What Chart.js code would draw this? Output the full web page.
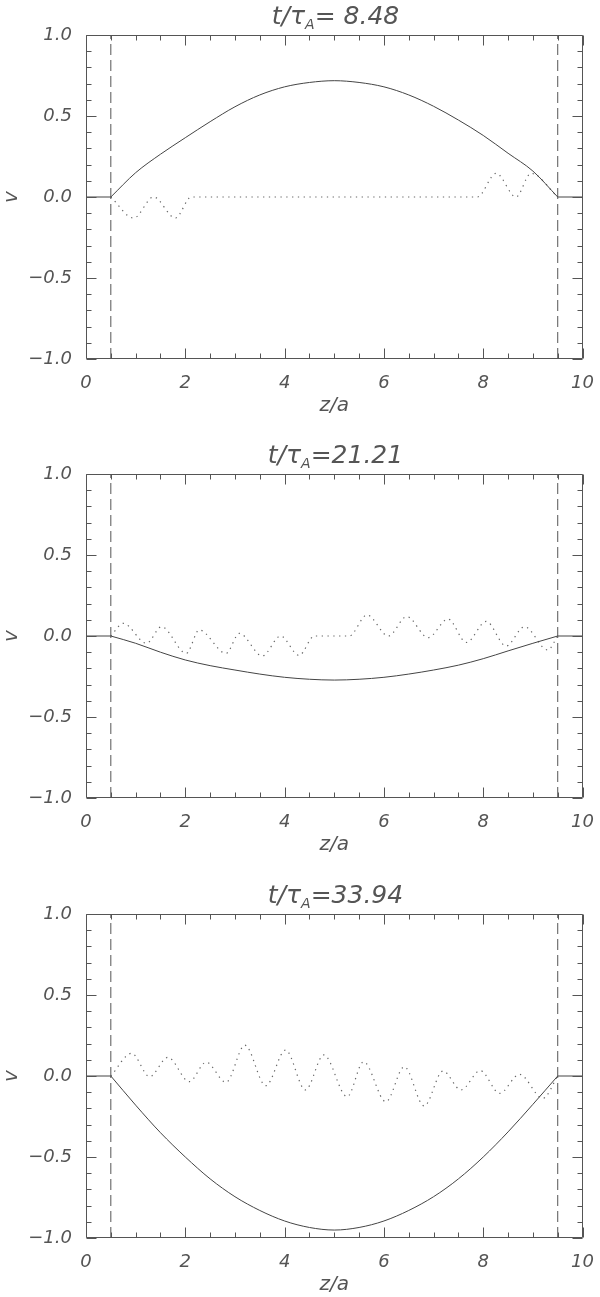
<!DOCTYPE html>
<html>
<head>
<meta charset="utf-8">
<script src="https://cdn.jsdelivr.net/npm/chart.js@4"></script>
<style>
  html, body { margin:0; padding:0; background:#fff; }
  body { width:600px; height:1297px; overflow:hidden; position:relative; }
  .panel { position:absolute; left:0; width:600px; height:418px; }
  .title { position:absolute; left:71px; width:529px; text-align:center; white-space:pre;
           font-family:'DejaVu Sans', sans-serif; font-style:italic; font-size:25px; line-height:30px; color:#555; }
  .title .sub { font-size:14px; vertical-align:-5px; }
</style>
</head>
<body>
<div class="panel" style="top:0px"><canvas id="c1" width="600" height="418"></canvas></div>
<div class="panel" style="top:439px"><canvas id="c2" width="600" height="418"></canvas></div>
<div class="panel" style="top:879px"><canvas id="c3" width="600" height="418"></canvas></div>
<div class="title" id="t1" style="top:1px"></div>
<div class="title" id="t2" style="top:440px"></div>
<div class="title" id="t3" style="top:880px"></div>
<script>
// ---------- data ----------
const titleValues = [' 8.48', '21.21', '33.94'];

const xTicks = [0, 2, 4, 6, 8, 10];
const xMinorTicks = [0.5, 1, 1.5, 2.5, 3, 3.5, 4.5, 5, 5.5, 6.5, 7, 7.5, 8.5, 9, 9.5];
const yTicks = [-1, -0.5, 0, 0.5, 1];
const yMinorTicks = [-0.9, -0.8, -0.7, -0.6, -0.4, -0.3, -0.2, -0.1, 0.1, 0.2, 0.3, 0.4, 0.6, 0.7, 0.8, 0.9];

const boundaryZ = [0.5, 9.5];

const edgeZ = [0, 0.5, 5, 9.5, 10];
const edgeV = [0, 0, null, 0, 0];

const solidZ = [0.5, 1, 1.5, 2, 2.5, 3, 3.5, 4, 4.5, 5, 5.5, 6, 6.5, 7, 7.5, 8, 8.5, 9, 9.5];
const solid1V = [0, 0.15, 0.264, 0.366, 0.465, 0.557, 0.63, 0.68, 0.707, 0.718, 0.707, 0.68, 0.63, 0.56, 0.475, 0.38, 0.27, 0.16, 0];
const solid2V = [0, -0.045, -0.10, -0.148, -0.183, -0.21, -0.235, -0.255, -0.267, -0.272, -0.267, -0.255, -0.235, -0.21, -0.18, -0.14, -0.092, -0.045, 0];
const solid3V = [0, -0.18, -0.35, -0.50, -0.635, -0.745, -0.83, -0.895, -0.935, -0.951, -0.935, -0.895, -0.83, -0.745, -0.635, -0.50, -0.345, -0.175, 0];

const dot1Z = [0.5, 0.96, 1.36, 1.80, 2.12, 7.88, 8.26, 8.66, 8.96, 9.5];
const dot1V = [0, -0.13, 0, -0.13, 0, 0, 0.146, 0, 0.146, 0];

const dot2Z = [0.5, 0.75, 1.22, 1.52, 2.02, 2.28, 2.82, 3.09, 3.55, 3.92, 4.29, 4.6, 5.3, 5.66, 6.09, 6.46, 6.89, 7.29, 7.66, 8.06, 8.46, 8.83, 9.3, 9.5];
const dot2V = [0, 0.078, -0.045, 0.057, -0.107, 0.037, -0.107, 0.016, -0.123, 0, -0.12, 0, 0, 0.13, 0, 0.12, -0.01, 0.105, -0.04, 0.09, -0.062, 0.057, -0.086, 0];

const dot3Z = [0.5, 0.92, 1.28, 1.65, 2.08, 2.42, 2.82, 3.2, 3.62, 4.02, 4.42, 4.79, 5.26, 5.59, 6.04, 6.41, 6.81, 7.19, 7.55, 7.94, 8.33, 8.73, 9.2, 9.5];
const dot3V = [0, 0.14, -0.004, 0.115, -0.035, 0.085, -0.039, 0.19, -0.06, 0.16, -0.086, 0.13, -0.128, 0.088, -0.159, 0.057, -0.185, 0.031, -0.086, 0.033, -0.107, 0.01, -0.138, 0];

// ---------- helpers ----------
const pts = (zs, vs) => zs.map((z, i) => ({x: z, y: vs[i]}));

Chart.defaults.font.family = "'DejaVu Sans', sans-serif";
Chart.defaults.font.style = 'italic';
Chart.defaults.color = '#555';

const frameTicks = {
  id: 'frameTicks',
  afterDatasetsDraw(chart) {
    const {ctx, chartArea: a, scales: {x, y}} = chart;
    const L = Math.round(a.left) + 0.5, R = Math.round(a.right) - 0.5;
    const T = Math.round(a.top) + 0.5, B = Math.round(a.bottom) - 0.5;
    ctx.save();
    ctx.strokeStyle = '#555';
    ctx.lineWidth = 1;
    ctx.beginPath();
    ctx.rect(L, T, R - L, B - T);
    const xt = (v, len) => {
      const p = Math.round(x.getPixelForValue(v)) + 0.5;
      ctx.moveTo(p, B); ctx.lineTo(p, B - len);
      ctx.moveTo(p, T); ctx.lineTo(p, T + len);
    };
    const yt = (v, len) => {
      const p = Math.round(y.getPixelForValue(v)) + 0.5;
      ctx.moveTo(L, p); ctx.lineTo(L + len, p);
      ctx.moveTo(R, p); ctx.lineTo(R - len, p);
    };
    xTicks.forEach(v => xt(v, 10));
    xMinorTicks.forEach(v => xt(v, 5));
    yTicks.forEach(v => yt(v, 10));
    yMinorTicks.forEach(v => yt(v, 5));
    ctx.stroke();
    ctx.restore();
  }
};

function makeChart(id, solidV, dotZ, dotV) {
  const datasets = [
    {data: pts(edgeZ, edgeV), borderColor: '#444', borderWidth: 1, pointRadius: 0, tension: 0, spanGaps: false},
    {data: pts(solidZ, solidV), borderColor: '#444', borderWidth: 1, pointRadius: 0, cubicInterpolationMode: 'monotone'},
    {data: pts(dotZ, dotV), borderColor: '#666', borderWidth: 1.2, borderDash: [1.3, 4.5], pointRadius: 0, cubicInterpolationMode: 'monotone'},
  ];
  boundaryZ.forEach(z => {
    datasets.push({data: [{x: z, y: -1}, {x: z, y: 1}], borderColor: '#555', borderWidth: 1, borderDash: [11, 5], pointRadius: 0, tension: 0});
  });
  return new Chart(document.getElementById(id), {
    type: 'line',
    data: {datasets},
    plugins: [frameTicks],
    options: {
      responsive: false,
      animation: false,
      events: [],
      layout: {padding: {top: 35, right: 15, left: 0, bottom: 0}},
      plugins: {legend: {display: false}, tooltip: {enabled: false}},
      scales: {
        x: {
          type: 'linear', min: 0, max: 10,
          afterBuildTicks: s => { s.ticks = xTicks.map(v => ({value: v})); },
          afterFit: s => { s.height = 59; },
          grid: {display: false}, border: {display: false},
          ticks: {padding: 6, color: '#555', font: {size: 18, style: 'italic'}, maxRotation: 0, callback: v => String(v)},
          title: {display: true, text: 'z/a', color: '#555', font: {size: 20, style: 'italic'}, padding: {top: 0, bottom: 0}}
        },
        y: {
          type: 'linear', min: -1, max: 1,
          afterBuildTicks: s => { s.ticks = yTicks.map(v => ({value: v})); },
          afterFit: s => { s.width = 86; },
          grid: {display: false}, border: {display: false},
          ticks: {padding: 6, color: '#555', font: {size: 18, style: 'italic'},
                  callback: v => (Math.abs(v) < 1e-9 ? '0.0' : v.toFixed(1).replace('-', '\u2212'))},
          title: {display: true, text: 'v', color: '#555', font: {size: 20, style: 'italic'}, padding: {top: 0, bottom: 0}}
        }
      }
    }
  });
}

makeChart('c1', solid1V, dot1Z, dot1V);
makeChart('c2', solid2V, dot2Z, dot2V);
makeChart('c3', solid3V, dot3Z, dot3V);

['t1', 't2', 't3'].forEach((id, i) => {
  const el = document.getElementById(id);
  el.innerHTML = 't/\u03c4<span class="sub">A</span>=' + titleValues[i];
});
</script>
</body>
</html>
